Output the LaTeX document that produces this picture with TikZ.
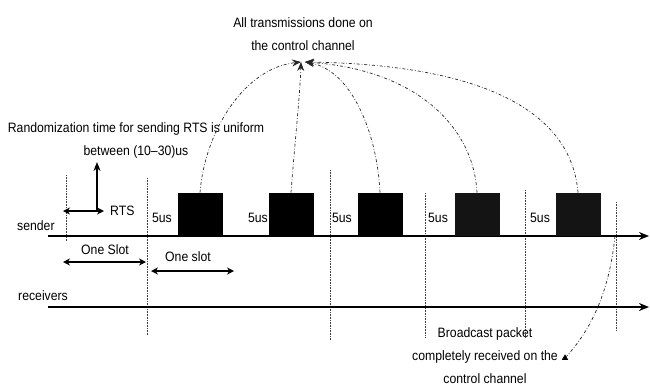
\documentclass[tikz,border=0pt]{standalone}
\usepackage{fontspec}
\setmainfont[FakeStretch=0.9]{Liberation Sans}
\usetikzlibrary{arrows.meta,shapes.geometric}

\begin{document}
\begin{tikzpicture}[x=1bp,y=-1bp,
  lbl/.style={font=\fontsize{13.6bp}{23bp}\selectfont, inner sep=0pt, align=center},
  axis/.style={line width=2bp, -{Stealth[length=10bp,width=8bp]}},
  span/.style={line width=1.8bp, {Stealth[length=7bp,width=7bp]}-{Stealth[length=7bp,width=7bp]}},
  guide/.style={line width=0.6bp, densely dotted, black!75},
  ctrl/.style={line width=0.7bp, dash dot, black!85},
  tip/.style={-{Stealth[length=9bp,width=7bp]}},
  pkt/.style={fill=black, minimum width=45bp, minimum height=43bp, inner sep=0pt, anchor=south},
]
\useasboundingbox (0,0) rectangle (650,388);

% slot boundaries
\draw[guide] (66,175) -- (66,242);
\draw[guide] (147,178) -- (147,336);
\draw[guide] (330,170) -- (330,340);
\draw[guide] (425,193) -- (425,338);
\draw[guide] (525,190) -- (525,337);
\draw[guide] (616,202) -- (616,330);

% time axes
\coordinate (s0) at (48,236);
\coordinate (s1) at (649,236);
\coordinate (r0) at (48,307);
\coordinate (r1) at (649,307);
\draw[axis] (s0) -- (s1);
\draw[axis] (r0) -- (r1);
\node[lbl, anchor=south west] (sender) at (17,231) {sender};
\node[lbl, anchor=south west] (receivers) at (18,301) {receivers};

% packets on the control channel
\node[pkt] (p1) at (200,236) {};
\node[pkt] (p2) at (291,236) {};
\node[pkt] (p3) at (380,236) {};
\node[pkt, fill=black!92] (p4) at (477,236) {};
\node[pkt, fill=black!92] (p5) at (578,236) {};

% guard intervals
\node[lbl] (g1) at (162,218) {5us};
\node[lbl] (g2) at (258,218) {5us};
\node[lbl] (g3) at (342,218) {5us};
\node[lbl] (g4) at (438,218) {5us};
\node[lbl] (g5) at (540,218) {5us};

% RTS randomisation
\coordinate (a0) at (63,211);
\coordinate (a1) at (104,211);
\coordinate (u0) at (97,211);
\coordinate (u1) at (97,162);
\draw[span] (a0) -- (a1);
\draw[line width=1.8bp, tip] (u0) -- (u1);
\node[lbl, anchor=west] (rts) at (110,211) {RTS};
\node[lbl] (rand) at (136,140) {Randomization time for sending RTS is uniform\\between (10--30)us};

% slot lengths
\node[lbl] (slotA) at (105,250) {One Slot};
\coordinate (b0) at (63,262);
\coordinate (b1) at (146,262);
\draw[span] (b0) -- (b1);
\node[lbl] (slotB) at (188,257) {One slot};
\coordinate (c0) at (151,271);
\coordinate (c1) at (234,271);
\draw[span] (c0) -- (c1);

% all transmissions share one point
\coordinate (apex) at (301,62);
\coordinate (apexR) at (305,62);
\node[lbl] (alltx) at (303,34) {All transmissions done on\\the control channel};
\draw[ctrl, tip] (p1.north) .. controls (205,130) and (245,68) .. (apex);
\draw[ctrl, tip] (p2.north) .. controls (295,140) and (300,95) .. (apex);
\draw[ctrl, tip] (p3.north) .. controls (377,130) and (350,70) .. (apexR);
\draw[ctrl, tip] (p4.north) .. controls (474,130) and (420,70) .. (apexR);
\draw[ctrl, tip] (p5.north) .. controls (572,120) and (500,65) .. (apexR);

% reception point
\coordinate (done) at (615,236);
\node[lbl] (bcast) at (485,356) {Broadcast packet\\completely received on the\\control channel};
\node[regular polygon, regular polygon sides=3, fill=black, inner sep=1.3bp] (mark) at (565,358) {};
\draw[ctrl] (done) .. controls (610,285) and (595,325) .. (mark);
\end{tikzpicture}
\end{document}
